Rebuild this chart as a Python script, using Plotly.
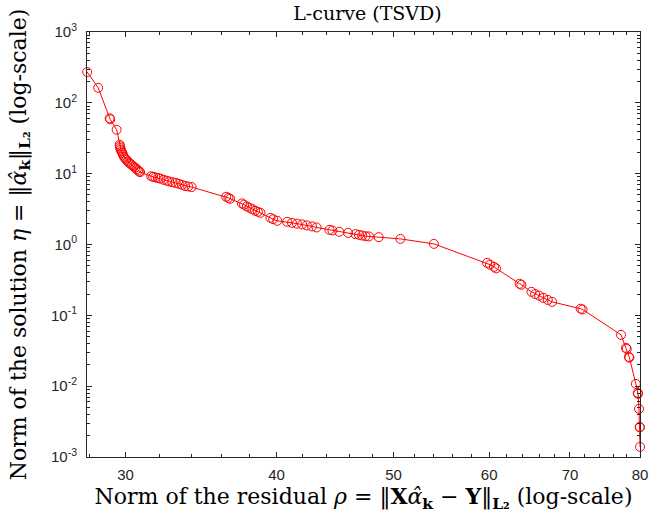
import numpy as np
import plotly.graph_objects as go

# Residual norm (rho) and solution norm (eta) for each truncation level k
rho = [27.87, 27.87, 27.88, 28.47, 29.10, 29.13, 29.49,
       29.66, 29.68, 29.70, 29.72, 29.76, 29.80, 29.85, 29.90, 29.97, 30.04,
       30.12, 30.20, 30.28, 30.37, 30.46, 30.55, 30.64, 30.72, 30.80, 30.84,
       31.50, 31.62, 31.75, 31.90, 32.05, 32.25, 32.45, 32.60, 32.80, 33.00,
       33.20, 33.40, 33.60, 33.80, 34.02,
       36.34, 36.50, 36.62,
       37.45, 37.60, 37.80, 38.00, 38.20, 38.40, 38.60, 38.80,
       39.54, 39.75, 40.06,
       40.82, 41.20, 41.59, 42.00, 42.38, 42.80, 43.18,
       44.25, 44.50, 45.09, 45.86, 46.50, 46.82, 47.10, 47.40, 47.71, 48.61,
       50.66, 54.00,
       59.77, 60.10, 60.56, 60.80,
       63.59, 63.80,
       65.04, 65.50, 66.00, 66.52, 67.10, 67.66,
       71.44, 71.70,
       77.16, 77.89, 78.00, 78.33, 78.40,
       79.37, 79.66, 79.70, 79.85, 79.96, 79.98, 80.00]
eta = [275, 274, 272, 163, 60.5, 58.5, 41.7,
       25.6, 24.3, 23.0, 21.8, 20.7, 19.7, 18.5, 17.3, 16.4, 15.7,
       14.9, 14.3, 13.7, 13.2, 12.6, 12.1, 11.6, 11.1, 10.7, 10.5,
       9.2, 9.0, 8.85, 8.7, 8.5, 8.2, 7.95, 7.75, 7.55, 7.40,
       7.20, 6.95, 6.70, 6.60, 6.47,
       4.72, 4.55, 4.42,
       3.80, 3.65, 3.45, 3.30, 3.15, 3.00, 2.90, 2.80,
       2.38, 2.28, 2.16,
       2.09, 2.02, 1.97, 1.92, 1.86, 1.80, 1.74,
       1.61, 1.58, 1.51, 1.46, 1.40, 1.37, 1.34, 1.31, 1.30, 1.27,
       1.20, 1.02,
       0.551, 0.52, 0.484, 0.46,
       0.279, 0.27,
       0.215, 0.20, 0.19, 0.177, 0.165, 0.155,
       0.124, 0.121,
       0.0530, 0.0348, 0.0335, 0.0259, 0.0252,
       0.01078, 0.00804, 0.0078, 0.00478, 0.00266, 0.00262, 0.00139]

x_ticks = [30, 40, 50, 60, 70, 80]
x_minor = [28, 32, 34, 36, 38, 42, 44, 46, 48, 52, 54, 56, 58, 62, 64, 66, 68, 72, 74, 76, 78]
y_ticks = [1e-3, 1e-2, 1e-1, 1e0, 1e1, 1e2, 1e3]
y_ticktext = ["10<sup>-3</sup>", "10<sup>-2</sup>", "10<sup>-1</sup>", "10<sup>0</sup>",
              "10<sup>1</sup>", "10<sup>2</sup>", "10<sup>3</sup>"]
y_minor = [m * 10.0 ** e for e in range(-3, 3) for m in range(2, 10)]

RED = "#ff0000"
AX = "#262626"
SERIF = "DejaVu Serif, Liberation Serif, serif"
SANS = "Liberation Sans, Arial, sans-serif"

fig = go.Figure()
fig.add_trace(go.Scatter(
    x=rho, y=eta, mode="lines+markers",
    line=dict(color=RED, width=1),
    marker=dict(symbol="circle-open", size=9, color=RED, line=dict(width=1, color=RED)),
    showlegend=False, hoverinfo="x+y", cliponaxis=False,
))

fig.update_layout(
    width=657, height=518,
    margin=dict(l=87, r=9, t=32, b=61),
    paper_bgcolor="white", plot_bgcolor="white",
    title=dict(text="L-curve (TSVD)", x=(87 + 648) / 2 / 657, xanchor="center",
               y=1 - 13 / 518, yanchor="middle", yref="container",
               font=dict(family=SERIF, size=19, color="black")),
)

fig.update_xaxes(
    type="log", range=[np.log10(27.87), np.log10(80.0)],
    tickmode="array", tickvals=x_ticks, ticktext=[str(v) for v in x_ticks],
    ticks="inside", ticklen=5, tickwidth=1, tickcolor=AX,
    showline=True, linecolor=AX, linewidth=1, mirror="ticks",
    showgrid=False, zeroline=False,
    tickfont=dict(family=SANS, size=15, color=AX),
    ticklabelstandoff=4,
    minor=dict(tickmode="array", tickvals=x_minor, ticks="inside", ticklen=3,
               tickcolor=AX, showgrid=False),
    title=dict(text="Norm of the residual <i>ρ</i> = ‖<b>X</b><i>α̂</i><sub><b>k</b></sub> − <b>Y</b>‖<sub><b>L₂</b></sub> (log-scale)",
               font=dict(family=SERIF, size=22, color="black"), standoff=4),
)

fig.update_yaxes(
    type="log", range=[-3, 3],
    tickmode="array", tickvals=y_ticks, ticktext=y_ticktext,
    ticks="inside", ticklen=5, tickwidth=1, tickcolor=AX,
    showline=True, linecolor=AX, linewidth=1, mirror="ticks",
    showgrid=False, zeroline=False,
    tickfont=dict(family=SANS, size=15, color=AX),
    ticklabelstandoff=6,
    minor=dict(tickmode="array", tickvals=y_minor, ticks="inside", ticklen=3,
               tickcolor=AX, showgrid=False),
    title=dict(text="Norm of the solution <i>η</i> = ‖<i>α̂</i><sub><b>k</b></sub>‖<sub><b>L₂</b></sub> (log-scale)",
               font=dict(family=SERIF, size=22, color="black"), standoff=18),
)

fig.write_html("out.html")
